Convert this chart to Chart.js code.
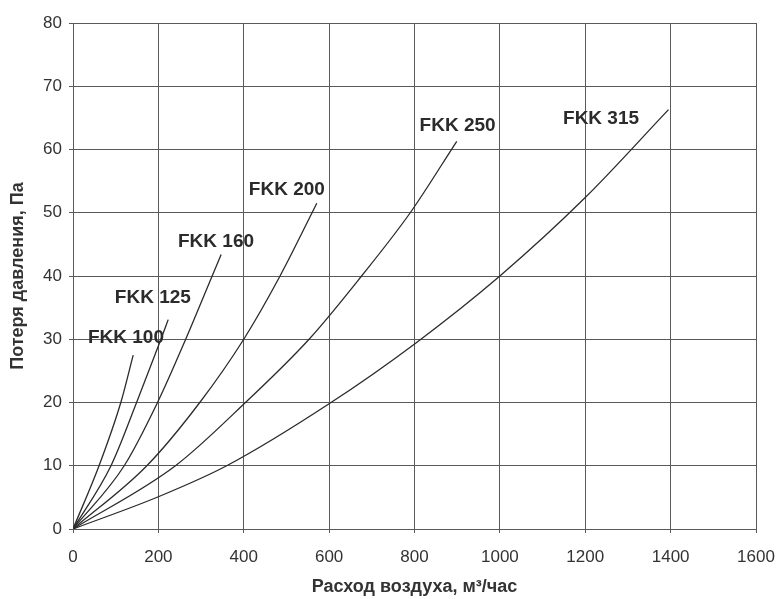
<!DOCTYPE html>
<html>
<head>
<meta charset="utf-8">
<script src="https://cdn.jsdelivr.net/npm/chart.js@4"></script>
<style>
  html, body { margin: 0; padding: 0; background: #fff; }
  #wrap { width: 776px; height: 599px; }
</style>
</head>
<body>
<div id="wrap"><canvas id="lossChart" width="776" height="599"></canvas></div>
<script>
// pressure loss curves (flow m3/h -> loss Pa)
const models = ['FKK 100', 'FKK 125', 'FKK 160', 'FKK 200', 'FKK 250', 'FKK 315'];

const flow100 = [0, 61, 112, 141];
const loss100 = [0, 10, 20, 27.5];
const flow125 = [0, 89, 149, 206, 223];
const loss125 = [0, 10, 20, 30, 33.1];
const flow160 = [0, 120, 198, 264, 326, 347];
const loss160 = [0, 10, 20, 30, 40, 43.4];
const flow200 = [0, 173, 297, 400, 485, 560, 571];
const loss200 = [0, 10, 20, 30, 40, 50, 51.5];
const flow250 = [0, 240, 404, 553, 676, 790, 899];
const loss250 = [0, 10, 20, 30, 40, 50, 61.3];
const flow315 = [0, 200, 360, 600, 805, 1000, 1200, 1395];
const loss315 = [0, 5.1, 10, 19.8, 29.5, 40, 52.4, 66.3];

const xTicks = [0, 200, 400, 600, 800, 1000, 1200, 1400, 1600];
const yTicks = [0, 10, 20, 30, 40, 50, 60, 70, 80];

const flows = [flow100, flow125, flow160, flow200, flow250, flow315];
const losses = [loss100, loss125, loss160, loss200, loss250, loss315];

// where each curve name sits (data units)
const labelAt = [[124, 30.2], [187, 36.5], [335, 45.4], [501, 53.7], [901, 63.7], [1237, 64.8]];

const datasets = models.map((name, i) => ({
  label: name,
  data: flows[i].map((x, j) => ({ x: x, y: losses[i][j] })),
  borderColor: '#2b2b2b',
  borderWidth: 1.3,
  pointRadius: 0,
  fill: false,
  cubicInterpolationMode: 'monotone'
}));

// draw the curve names next to the line ends
const curveNames = {
  id: 'curveNames',
  afterDatasetsDraw(chart) {
    const ctx = chart.ctx;
    const xs = chart.scales.x, ys = chart.scales.y;
    ctx.save();
    ctx.font = 'bold 19px "Liberation Sans", Arial, sans-serif';
    ctx.fillStyle = '#2b2b2b';
    ctx.textAlign = 'center';
    ctx.textBaseline = 'middle';
    models.forEach((name, i) => {
      ctx.fillText(name, xs.getPixelForValue(labelAt[i][0]), ys.getPixelForValue(labelAt[i][1]));
    });
    ctx.restore();
  }
};

const gridColor = '#5a5a5a';

new Chart(document.getElementById('lossChart'), {
  type: 'line',
  data: { datasets: datasets },
  options: {
    responsive: false,
    animation: false,
    layout: { padding: { left: 0, right: 20, top: 23, bottom: 0 } },
    plugins: {
      legend: { display: false },
      tooltip: { enabled: false }
    },
    scales: {
      x: {
        type: 'linear',
        min: 0,
        max: 1600,
        afterBuildTicks: s => { s.ticks = xTicks.map(v => ({ value: v })); },
        afterFit: s => { s.height = 70; s.paddingLeft = 0; s.paddingRight = 0; },
        ticks: {
          color: '#333',
          padding: 14,
          maxRotation: 0,
          callback: v => String(v),
          font: { family: '"Liberation Sans", Arial, sans-serif', size: 17 }
        },
        grid: { color: gridColor, lineWidth: 1, tickLength: 4 },
        border: { color: gridColor, width: 1 },
        title: {
          display: true,
          text: 'Расход воздуха, м³/час',
          color: '#333',
          padding: { top: 0, bottom: 1 },
          font: { family: '"Liberation Sans", Arial, sans-serif', size: 18, weight: 'bold' }
        }
      },
      y: {
        type: 'linear',
        min: 0,
        max: 80,
        afterBuildTicks: s => { s.ticks = yTicks.map(v => ({ value: v })); },
        afterFit: s => { s.width = 73; },
        ticks: {
          color: '#333',
          padding: 7,
          font: { family: '"Liberation Sans", Arial, sans-serif', size: 17 }
        },
        grid: { color: gridColor, lineWidth: 1, tickLength: 4 },
        border: { color: gridColor, width: 1 },
        title: {
          display: true,
          text: 'Потеря давления, Па',
          color: '#333',
          padding: { top: 7, bottom: 0 },
          font: { family: '"Liberation Sans", Arial, sans-serif', size: 18, weight: 'bold' }
        }
      }
    }
  },
  plugins: [curveNames]
});
</script>
</body>
</html>
